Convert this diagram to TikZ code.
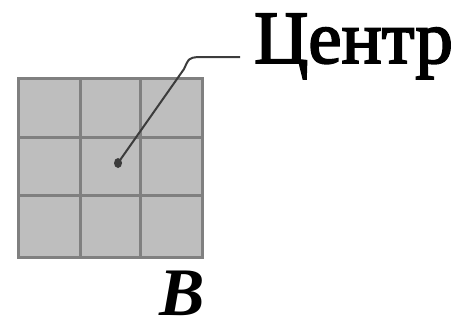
\documentclass[tikz,border=0pt]{standalone}
\usepackage{fontspec}
\setmainfont{Liberation Serif}
\newfontfamily\labelfont[FakeBold=2.5]{Liberation Serif}
\usepackage{tikz}
\usetikzlibrary{positioning,calc}

\definecolor{cellfill}{RGB}{190,190,190}
\definecolor{gridline}{RGB}{128,128,128}
\definecolor{leadline}{RGB}{60,60,60}

\begin{document}
\begin{tikzpicture}[x=1pt,y=-1pt]
  \useasboundingbox (0,0) rectangle (462,325);
  % the 3x3 block of cells
  \fill[cellfill] (18,78) rectangle (202,257);
  \draw[gridline,line width=3pt] (18,78) rectangle (202,257);
  \foreach \gx in {80,140} \draw[gridline,line width=3pt] (\gx,78) -- (\gx,257);
  \foreach \gy in {137,195} \draw[gridline,line width=3pt] (18,\gy) -- (202,\gy);
  % label and leader to the middle cell
  \node[anchor=base west,inner sep=0pt,font=\fontsize{75}{75}\labelfont] (centre) at (254,63) {Центр};
  \coordinate (dot) at (118,163);
  \coordinate (lead) at (240,57);
  \fill[leadline] (dot) ellipse (4pt and 5pt);
  \draw[leadline,line width=2pt] (dot) -- (184,69) .. controls (189,58) .. (198,57) -- (lead);
  \node[anchor=base,inner sep=0pt,font=\fontsize{68}{68}\selectfont\bfseries\itshape] (blockname) at (182,315) {B};
\end{tikzpicture}
\end{document}
